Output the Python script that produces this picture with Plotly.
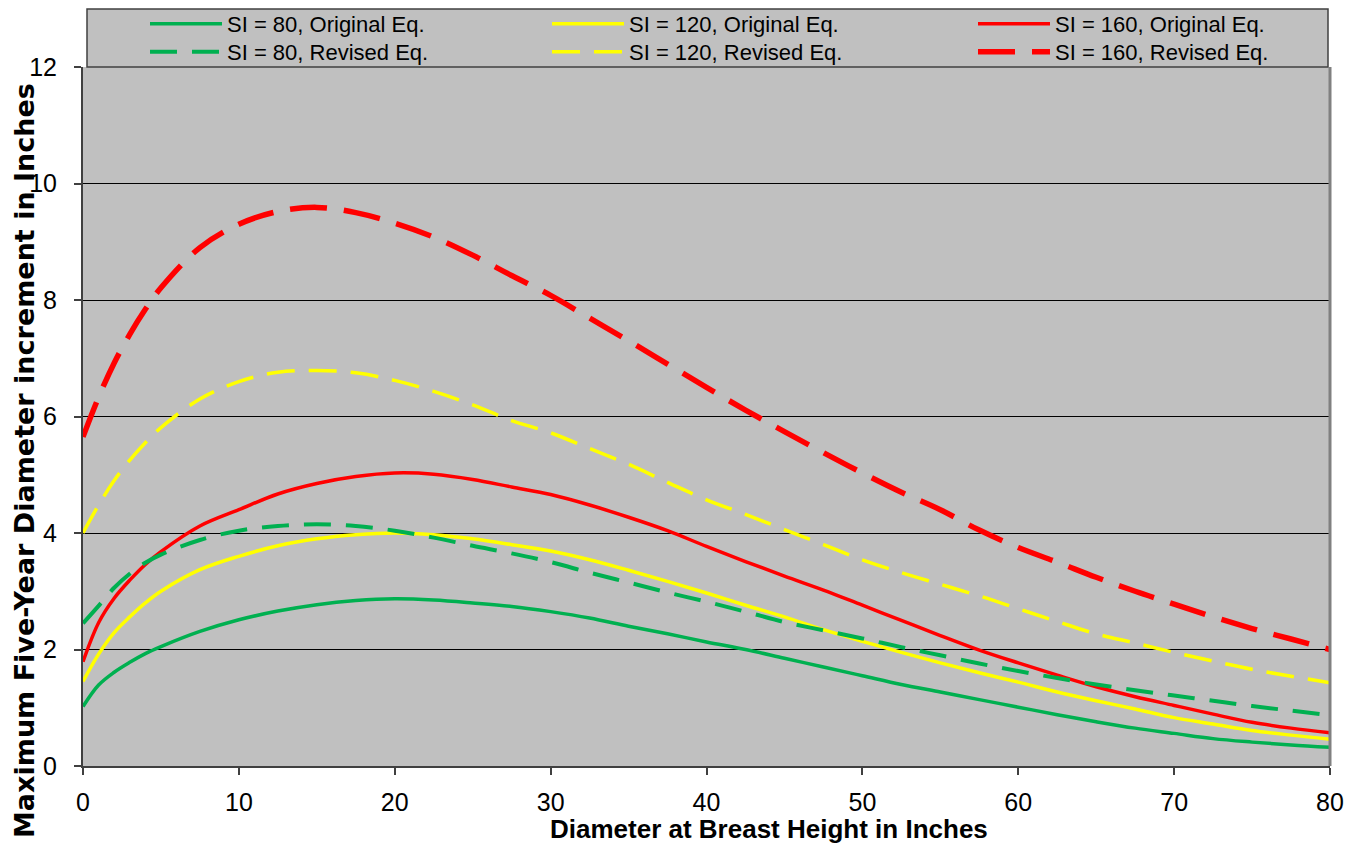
import plotly.graph_objects as go

# DBH (inches)
dbh = [0, 1, 2, 3, 4, 5, 7.5, 10, 12.5, 15, 17.5, 20, 22.5, 25, 27.5, 30, 32.5, 35, 37.5,
       40, 42.5, 45, 47.5, 50, 52.5, 55, 57.5, 60, 62.5, 65, 67.5, 70, 72.5, 75, 77.5, 80]

si80_orig = [1.02, 1.39, 1.61, 1.78, 1.93, 2.05, 2.31, 2.51, 2.66, 2.77, 2.84, 2.87, 2.85, 2.80,
             2.74, 2.65, 2.54, 2.40, 2.27, 2.13, 2.00, 1.85, 1.70, 1.55, 1.40, 1.27, 1.14, 1.01,
             0.88, 0.76, 0.65, 0.56, 0.47, 0.41, 0.36, 0.32]
si120_orig = [1.45, 1.92, 2.29, 2.56, 2.80, 3.00, 3.37, 3.60, 3.78, 3.90, 3.97, 4.00, 3.97, 3.90,
              3.80, 3.69, 3.54, 3.36, 3.17, 2.97, 2.76, 2.56, 2.34, 2.14, 1.95, 1.77, 1.60, 1.44,
              1.27, 1.12, 0.98, 0.83, 0.72, 0.61, 0.53, 0.46]
si160_orig = [1.79, 2.46, 2.88, 3.19, 3.46, 3.68, 4.12, 4.40, 4.67, 4.85, 4.97, 5.03, 5.01, 4.92,
              4.79, 4.66, 4.48, 4.27, 4.04, 3.77, 3.51, 3.26, 3.02, 2.76, 2.50, 2.24, 1.99, 1.77,
              1.56, 1.36, 1.19, 1.04, 0.89, 0.75, 0.65, 0.57]
si80_rev = [2.45, 2.75, 3.06, 3.30, 3.49, 3.63, 3.88, 4.04, 4.12, 4.15, 4.12, 4.04, 3.92, 3.78,
            3.65, 3.50, 3.32, 3.15, 2.98, 2.82, 2.65, 2.47, 2.33, 2.19, 2.04, 1.90, 1.76, 1.63,
            1.51, 1.40, 1.30, 1.21, 1.12, 1.03, 0.95, 0.87]
si120_rev = [4.00, 4.48, 4.90, 5.25, 5.55, 5.81, 6.30, 6.60, 6.76, 6.79, 6.75, 6.62, 6.43, 6.20,
             5.93, 5.72, 5.45, 5.18, 4.87, 4.57, 4.32, 4.06, 3.80, 3.54, 3.32, 3.12, 2.92, 2.70,
             2.48, 2.27, 2.11, 1.95, 1.80, 1.66, 1.54, 1.43]
si160_rev = [5.65, 6.33, 6.92, 7.41, 7.84, 8.21, 8.90, 9.30, 9.52, 9.59, 9.50, 9.32, 9.08, 8.77,
             8.42, 8.08, 7.69, 7.30, 6.90, 6.50, 6.11, 5.74, 5.38, 5.03, 4.70, 4.40, 4.05, 3.75,
             3.50, 3.24, 3.00, 2.78, 2.56, 2.36, 2.18, 2.00]

names = ["SI = 80, Original Eq.", "SI = 120, Original Eq.", "SI = 160, Original Eq.",
         "SI = 80, Revised Eq.", "SI = 120, Revised Eq.", "SI = 160, Revised Eq."]
x_ticks = [0, 10, 20, 30, 40, 50, 60, 70, 80]
y_ticks = [0, 2, 4, 6, 8, 10, 12]
x_title = "Diameter at Breast Height in Inches"
y_title = "Maximum Five-Year Diameter increment in Inches"

GREEN, YELLOW, RED = "#00B050", "#FFFF00", "#FF0000"
OFF = 8                      # page body margin around the figure
W, H = 1361 - OFF, 846 - OFF
ML, MR, MT, MB = 83 - OFF, 31, 67 - OFF, 80
PW, PH = W - ML - MR, H - MT - MB

def px2x(page_px):
    return (page_px - OFF - ML) / PW

def py2y(page_py):
    return (H - MB - (page_py - OFF)) / PH

series = [
    (si80_orig, GREEN, "solid", 3.5, "legend"),
    (si120_orig, YELLOW, "solid", 3.5, "legend2"),
    (si160_orig, RED, "solid", 3.5, "legend3"),
    (si80_rev, GREEN, "27px,15px", 4, "legend4"),
    (si120_rev, YELLOW, "28px,14px", 3.5, "legend5"),
    (si160_rev, RED, "37px,17px", 5.5, "legend6"),
]

fig = go.Figure()
for (ys, col, dash, w, lg), nm in zip(series, names):
    fig.add_trace(go.Scatter(
        x=dbh, y=ys, mode="lines", name=nm, legend=lg,
        line=dict(color=col, width=w, dash=dash, shape="spline", smoothing=1.0),
    ))

legfont = dict(family="Liberation Sans, Arial, sans-serif", size=22, color="#000000")
col_x = [145, 547, 973]
row_y = [24, 52]
leg_keys = ["legend", "legend2", "legend3", "legend4", "legend5", "legend6"]
legends = {}
for i, k in enumerate(leg_keys):
    legends[k] = dict(
        x=px2x(col_x[i % 3]), y=py2y(row_y[i // 3]), xanchor="left", yanchor="middle",
        bgcolor="rgba(0,0,0,0)", borderwidth=0, font=legfont, itemwidth=72,
        orientation="v",
    )

fig.update_layout(
    width=W, height=H,
    margin=dict(l=ML, r=MR, t=MT, b=MB, autoexpand=False),
    paper_bgcolor="#FFFFFF", plot_bgcolor="#C0C0C0",
    showlegend=True,
    font=dict(family="Liberation Sans, Arial, sans-serif", color="#000000"),
    **legends,
)

fig.update_xaxes(
    range=[0, 80], tickvals=x_ticks, ticktext=[str(v) for v in x_ticks],
    showgrid=False, zeroline=False, automargin=False,
    showline=True, linecolor="#404040", linewidth=2,
    ticks="outside", ticklen=7, tickcolor="#404040", tickwidth=1.5,
    tickfont=dict(size=25), ticklabelstandoff=6,
)
fig.update_yaxes(
    range=[0, 12], tickvals=y_ticks, ticktext=[str(v) for v in y_ticks],
    showgrid=True, gridcolor="#000000", gridwidth=1, zeroline=False, automargin=False,
    showline=True, linecolor="#404040", linewidth=2,
    ticks="outside", ticklen=7, tickcolor="#404040", tickwidth=1.5,
    tickfont=dict(size=25), ticklabelstandoff=12,
)

# axis titles
fig.add_annotation(text="<b>%s</b>" % x_title, xref="paper", yref="paper",
                   x=px2x(769), y=py2y(829), xanchor="center", yanchor="middle",
                   showarrow=False,
                   font=dict(size=26, family="Liberation Sans, Arial, sans-serif", color="#000000"))
fig.add_annotation(text="<b>%s</b>" % y_title, xref="paper", yref="paper",
                   x=px2x(24), y=py2y(461), xanchor="center", yanchor="middle",
                   textangle=-90, showarrow=False,
                   font=dict(size=27, family="DejaVu Sans, sans-serif", color="#000000"))

# legend box (framed panel above the plot area) and right border of plot area
fig.add_shape(type="rect", xref="paper", yref="paper",
              x0=px2x(87), x1=px2x(1328), y0=1.0, y1=py2y(9),
              fillcolor="#C0C0C0", line=dict(color="#404040", width=1.5), layer="above")
fig.add_shape(type="line", xref="paper", yref="paper",
              x0=1.0, x1=1.0, y0=0, y1=1.0,
              line=dict(color="#808080", width=3), layer="above")

fig.write_html("out.html")
